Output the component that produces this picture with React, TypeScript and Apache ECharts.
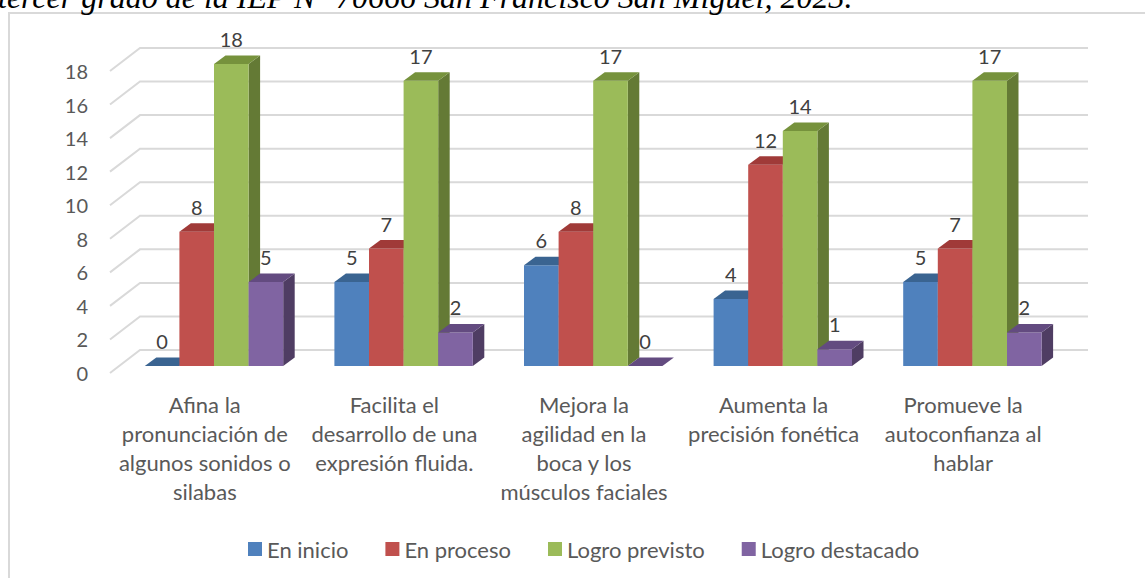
import React, { useEffect, useRef } from "react";
import * as echarts from "echarts";

const categories = [
  "Afina la\npronunciación de\nalgunos sonidos o\nsilabas",
  "Facilita el\ndesarrollo de una\nexpresión fluida.",
  "Mejora la\nagilidad en la\nboca y los\nmúsculos faciales",
  "Aumenta la\nprecisión fonética",
  "Promueve la\nautoconfianza al\nhablar",
];
const enInicio = [0, 5, 6, 4, 5];
const enProceso = [8, 7, 8, 12, 7];
const logroPrevisto = [18, 17, 17, 14, 17];
const logroDestacado = [5, 2, 0, 1, 2];
const yTicks = [0, 2, 4, 6, 8, 10, 12, 14, 16, 18];
const titleText = "tercer grado de la IEP N° 70666 San Francisco San Miguel, 2023.";

const FONT = "Lato";
const BAR_W = 34.6;
const PLANE_DX = 9.2;
const PLANE_DY = 7;
const BAR_DX = 11.5;
const BAR_DY = 8.5;
const WALL_DX = 30;
const WALL_DY = 23;

function barSeries(name: string, values: number[], idx: number, face: string, top: string, side: string) {
  return {
    name,
    type: "custom",
    coordinateSystem: "cartesian2d",
    itemStyle: { color: face },
    data: values.map((v, i) => [i, v]),
    encode: { x: 0, y: 1 },
    renderItem: (_p: any, api: any) => {
      const cat = api.value(0);
      const val = api.value(1);
      const c = api.coord([cat, val]);
      const b = api.coord([cat, 0]);
      const x0 = c[0] + PLANE_DX + (idx - 2) * BAR_W;
      const x1 = x0 + BAR_W;
      const yT = c[1] - PLANE_DY;
      const yB = b[1] - PLANE_DY;
      const children: any[] = [];
      if (val > 0) {
        children.push({
          type: "polygon",
          shape: { points: [[x1, yT], [x1 + BAR_DX, yT - BAR_DY], [x1 + BAR_DX, yB - BAR_DY], [x1, yB]] },
          style: { fill: side },
        });
        children.push({
          type: "rect",
          shape: { x: x0, y: yT, width: BAR_W, height: yB - yT },
          style: { fill: face },
        });
      }
      children.push({
        type: "polygon",
        shape: { points: [[x0, yT], [x0 + BAR_DX, yT - BAR_DY], [x1 + BAR_DX, yT - BAR_DY], [x1, yT]] },
        style: { fill: top },
      });
      children.push({
        type: "text",
        z2: 100,
        style: {
          text: String(val),
          x: (x0 + x1) / 2,
          y: yT - 25,
          align: "center",
          verticalAlign: "middle",
          fill: "#404040",
          font: `20px ${FONT}`,
        },
      });
      return { type: "group", children };
    },
  };
}

export default function App() {
  const ref = useRef<HTMLDivElement>(null);
  useEffect(() => {
    const chart = echarts.init(ref.current!, null, { renderer: "svg" });
    chart.setOption({
      animation: false,
      backgroundColor: "#ffffff",
      textStyle: { fontFamily: FONT },
      grid: { left: 110, width: 948, top: 71, height: 302 },
      xAxis: {
        type: "category",
        data: categories,
        axisLine: { show: false },
        axisTick: { show: false },
        splitLine: { show: false },
        axisLabel: {
          interval: 0,
          margin: 17,
          color: "#595959",
          fontSize: 22,
          lineHeight: 29,
          fontFamily: FONT,
          align: "center",
        },
      },
      yAxis: {
        type: "value",
        min: 0,
        max: 18,
        interval: 2,
        axisLine: { show: false },
        axisTick: { show: false },
        splitLine: { show: false },
        axisLabel: { margin: 22, color: "#595959", fontSize: 20, fontFamily: FONT },
      },
      legend: {
        left: 243,
        top: 533,
        itemWidth: 14,
        itemHeight: 14,
        itemGap: 37,
        icon: "rect",
        textStyle: { color: "#595959", fontSize: 22, fontFamily: FONT, padding: [0, 0, 0, 0] },
        data: ["En inicio", "En proceso", "Logro previsto", "Logro destacado"],
      },
      graphic: [
        {
          type: "polyline",
          shape: { points: [[9, 578], [9, 13], [1145, 13]] },
          style: { stroke: "#D9D9D9", lineWidth: 2, fill: "none" },
        },
        {
          type: "text",
          left: -2,
          top: -19,
          style: { text: titleText, fill: "#000000", font: "italic 32px 'Liberation Serif'" },
        },
      ],
      series: [
        {
          name: "wall",
          type: "custom",
          coordinateSystem: "cartesian2d",
          silent: true,
          z: 1,
          data: yTicks.map((t) => [0, t]),
          encode: { x: 0, y: 1 },
          renderItem: (p: any, api: any) => {
            const y = api.coord([0, api.value(1)])[1];
            const x = p.coordSys.x;
            const w = p.coordSys.width;
            return {
              type: "polyline",
              shape: { points: [[x, y], [x + WALL_DX, y - WALL_DY], [x + w + WALL_DX, y - WALL_DY]] },
              style: { stroke: "#D9D9D9", lineWidth: 2, fill: "none" },
            };
          },
        },
        barSeries("En inicio", enInicio, 0, "#4F81BD", "#3A6491", "#2F4F78"),
        barSeries("En proceso", enProceso, 1, "#C0504D", "#A03A38", "#823331"),
        barSeries("Logro previsto", logroPrevisto, 2, "#9BBB59", "#76923C", "#647A35"),
        barSeries("Logro destacado", logroDestacado, 3, "#8064A2", "#634B80", "#4F3D63"),
      ],
    });
    return () => chart.dispose();
  }, []);
  return <div ref={ref} style={{ position: "absolute", left: 0, top: 0, width: 1145, height: 578 }} />;
}
